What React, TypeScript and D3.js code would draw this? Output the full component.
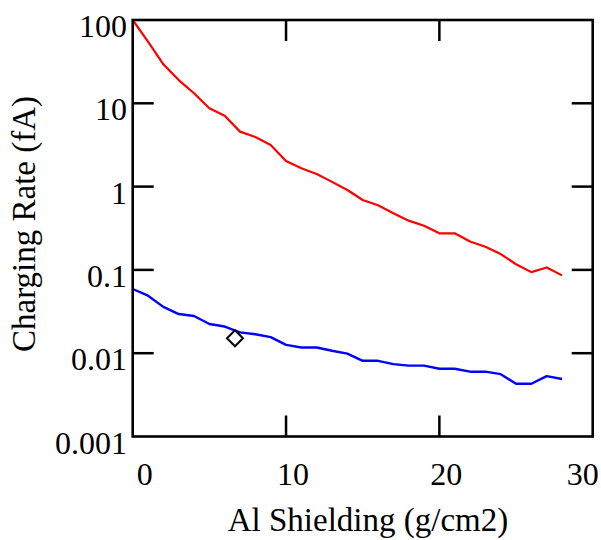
import React from "react";
import * as d3 from "d3";

const shielding = d3.range(0, 29);
const upperRate = [100, 55, 29.4, 19, 13.2, 8.7, 7.1, 4.57, 3.94, 3.16, 2.03, 1.66, 1.42, 1.14, 0.91, 0.69, 0.597, 0.48, 0.39, 0.339, 0.275, 0.275, 0.219, 0.19, 0.155, 0.117, 0.094, 0.107, 0.086];
const lowerRate = [0.059, 0.049, 0.036, 0.0295, 0.028, 0.0224, 0.0209, 0.0178, 0.0169, 0.0156, 0.0126, 0.0117, 0.0117, 0.0107, 0.0099, 0.0081, 0.0081, 0.0074, 0.0071, 0.0071, 0.0065, 0.0065, 0.006, 0.006, 0.0056, 0.0043, 0.0043, 0.0053, 0.0049];
const markerPoint = { x: 6.67, y: 0.0151 };
const xTicks = [0, 10, 20, 30];
const yTicks = [100, 10, 1, 0.1, 0.01, 0.001];
const yTickLabels = ["100", "10", "1", "0.1", "0.01", "0.001"];

const W = 601;
const H = 540;
const L = 132.7, R = 592.7, T = 20, B = 436.5;

export default function App() {
  const x = d3.scaleLinear().domain([0, 30]).range([L, R]);
  const y = d3.scaleLog().domain([0.001, 100]).range([B, T]);
  const line = d3
    .line<number>()
    .x((_, i) => x(shielding[i]))
    .y((d) => y(d));
  const font = "'Liberation Serif', 'Times New Roman', serif";
  const tickLen = 21;
  const innerX = xTicks.filter((v) => v !== 0 && v !== 30);
  const innerY = yTicks.filter((v) => v !== 100 && v !== 0.001);
  const mx = x(markerPoint.x);
  const my = y(markerPoint.y);
  const md = 8;
  return (
    <svg width={W} height={H} style={{ position: "absolute", left: 0, top: 0 }} fontFamily={font}>
      <rect x={0} y={0} width={W} height={H} fill="#fff" />
      <path d={line(upperRate) || ""} fill="none" stroke="#ff0000" strokeWidth={2.2} strokeLinejoin="round" />
      <path d={line(lowerRate) || ""} fill="none" stroke="#0000ff" strokeWidth={2.4} strokeLinejoin="round" />
      <path
        d={`M${mx},${my - md}L${mx + md},${my}L${mx},${my + md}L${mx - md},${my}Z`}
        fill="#fff"
        stroke="#000"
        strokeWidth={2}
      />
      {innerX.map((v) => (
        <g key={"xt" + v}>
          <line x1={x(v)} x2={x(v)} y1={B} y2={B - tickLen} stroke="#000" strokeWidth={2.5} />
          <line x1={x(v)} x2={x(v)} y1={T} y2={T + tickLen} stroke="#000" strokeWidth={2.5} />
        </g>
      ))}
      {innerY.map((v) => (
        <g key={"yt" + v}>
          <line x1={L} x2={L + tickLen} y1={y(v)} y2={y(v)} stroke="#000" strokeWidth={2.5} />
          <line x1={R} x2={R - tickLen} y1={y(v)} y2={y(v)} stroke="#000" strokeWidth={2.5} />
        </g>
      ))}
      <rect x={L} y={T} width={R - L} height={B - T} fill="none" stroke="#000" strokeWidth={2.6} />
      {yTicks.map((v, i) => (
        <text key={"yl" + v} x={127} y={y(v) + 17} textAnchor="end" fontSize={32} fill="#000">
          {yTickLabels[i]}
        </text>
      ))}
      {xTicks.map((v) => {
        const dx = v === 0 ? 12 : v === 30 ? -10 : 7;
        return (
          <text key={"xl" + v} x={x(v) + dx} y={485} textAnchor="middle" fontSize={32} fill="#000">
            {String(v)}
          </text>
        );
      })}
      <text x={368} y={531} textAnchor="middle" fontSize={33} fill="#000">
        Al Shielding (g/cm2)
      </text>
      <text transform={`translate(35,224) rotate(-90)`} textAnchor="middle" fontSize={33} fill="#000">
        Charging Rate (fA)
      </text>
    </svg>
  );
}
